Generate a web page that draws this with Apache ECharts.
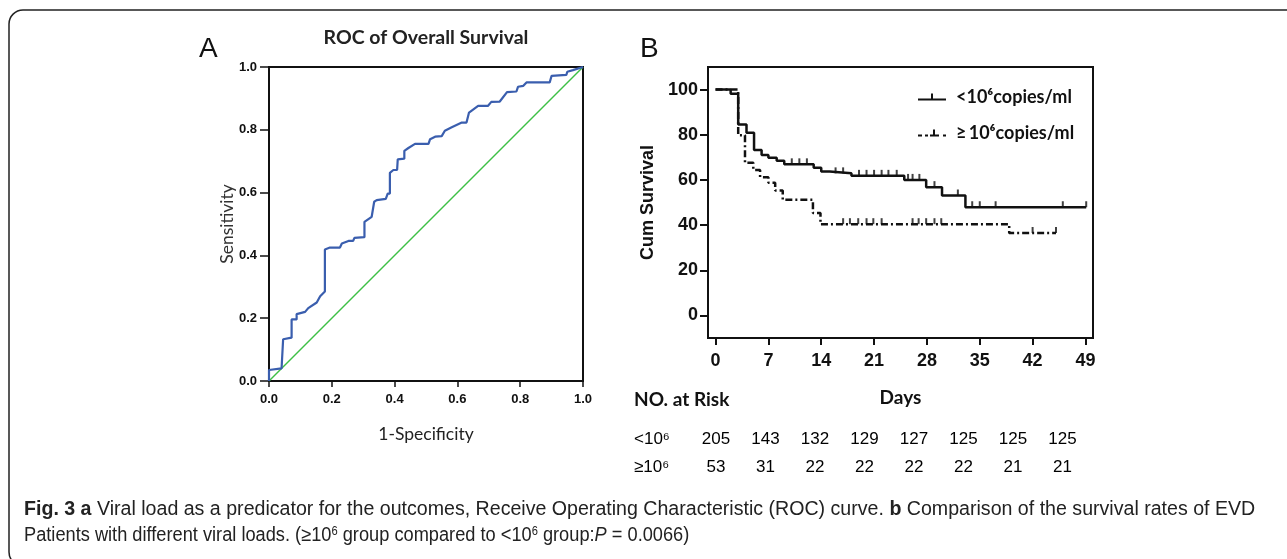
<!DOCTYPE html>
<html><head><meta charset="utf-8">
<script src="https://cdn.jsdelivr.net/npm/echarts@6/dist/echarts.min.js"></script>
<style>html,body{margin:0;padding:0;background:#fff}#c{width:1287px;height:559px}</style>
</head><body><div id="c"></div>
<script>
// ---------- Panel A: ROC ----------
const rocCurve = [[0,0],[0,0.035],[0.04,0.04],[0.045,0.04],[0.045,0.133],[0.072,0.138],[0.072,0.196],[0.088,0.196],[0.088,0.213],[0.115,0.22],[0.125,0.232],[0.152,0.25],[0.163,0.27],[0.178,0.285],[0.178,0.419],[0.194,0.425],[0.226,0.425],[0.232,0.438],[0.253,0.446],[0.268,0.446],[0.272,0.456],[0.304,0.458],[0.304,0.507],[0.327,0.523],[0.333,0.523],[0.335,0.571],[0.343,0.576],[0.372,0.58],[0.378,0.597],[0.385,0.597],[0.385,0.663],[0.396,0.672],[0.408,0.672],[0.41,0.706],[0.431,0.708],[0.431,0.733],[0.444,0.742],[0.465,0.755],[0.508,0.755],[0.513,0.77],[0.529,0.778],[0.55,0.78],[0.56,0.797],[0.582,0.808],[0.614,0.823],[0.629,0.823],[0.637,0.855],[0.666,0.876],[0.697,0.876],[0.708,0.889],[0.735,0.89],[0.758,0.92],[0.788,0.922],[0.793,0.937],[0.81,0.94],[0.82,0.951],[0.894,0.951],[0.9,0.972],[0.947,0.975],[0.95,0.985],[0.968,0.99],[1,1]];
const rocReference = [[0,0],[1,1]];

// ---------- Panel B: Kaplan-Meier ----------
const kmLow = [[0,100],[2,98.2],[3,84.5],[4.1,80.9],[5.1,73.2],[6.1,71],[7,69.8],[8.1,68.5],[9.1,66.9],[13,65.4],[14,63.7],[15.1,62.9],[18,61.8],[25,60],[27.9,56.8],[30,53.1],[33.1,47.9],[49.1,47.9]];
const kmLowCensor = [[10.1,66.9],[11.1,66.9],[12.1,66.9],[15.9,62.9],[16.9,62.9],[19,61.8],[20,61.8],[21,61.8],[22,61.8],[22.9,61.8],[24,61.8],[25.5,60],[26.1,60],[27,60],[29,56.8],[32.1,53.1],[34,47.9],[35,47.9],[37.1,47.9],[46,47.9],[49.1,47.9]];
const kmHigh = [[0,100],[3,79.8],[3.9,67.6],[5,64.4],[5.9,61.2],[7,58.8],[7.9,55.3],[8.9,51.2],[12.9,45.3],[13.9,40.4],[38.9,36.5],[45.1,36.5]];
const kmHighCensor = [[16.9,40.4],[17.8,40.4],[18.9,40.4],[20,40.4],[20.9,40.4],[22,40.4],[26.1,40.4],[26.9,40.4],[27.9,40.4],[29,40.4],[29.9,40.4],[42,36.5],[45.1,36.5]];
const kmXTicks = [0,7,14,21,28,35,42,49];
const kmYTicks = [0,20,40,60,80,100];
const groupNames = ['<10\u2076copies/ml', '\u2265\u200910\u2076copies/ml'];

// ---------- Numbers at risk ----------
const riskRowLabels = ['<10\u2076', '\u226510\u2076'];
const riskLow = [205,143,132,129,127,125,125,125];
const riskHigh = [53,31,22,22,22,22,21,21];

const ARIAL = "'Liberation Sans', Arial, sans-serif";
const CAL = "Lato, 'Liberation Sans', sans-serif";

const chart = echarts.init(document.getElementById('c'), null, {renderer:'canvas'});

const riskGraphics = [];
riskGraphics.push({type:'text', x:634, y:400, style:{text:'NO. at Risk', font:"bold 19px "+CAL, fill:'#111', verticalAlign:'middle'}});
[riskLow, riskHigh].forEach((row, r) => {
  const yy = r === 0 ? 439 : 467;
  riskGraphics.push({type:'text', x:634, y:yy, style:{text:riskRowLabels[r], font:"17px "+ARIAL, fill:'#000', verticalAlign:'middle'}});
  row.forEach((v,i) => riskGraphics.push({type:'text', x:716 + i*49.5, y:yy, style:{text:String(v), font:"17px "+ARIAL, fill:'#000', align:'center', verticalAlign:'middle'}}));
});

const capFont = "'Liberation Sans', sans-serif";
const CS = 19.6;
const capRich = {
  b:{fontFamily:capFont, fontSize:CS, fontWeight:'bold', color:'#111'},
  i:{fontFamily:capFont, fontSize:CS, fontStyle:'italic', color:'#222'},
  s:{fontFamily:capFont, fontSize:12, color:'#222', verticalAlign:'top'}
};

const option = {
  animation:false,
  backgroundColor:'#fff',
  title:[
    {text:'ROC of Overall Survival', left:421, top:23, textAlign:'center', textStyle:{fontFamily:CAL, fontWeight:'bold', fontSize:19.5, color:'#222'}},
    {text:'A', left:194, top:30, textStyle:{fontFamily:ARIAL, fontWeight:'normal', fontSize:28, color:'#111'}},
    {text:'B', left:635, top:30, textStyle:{fontFamily:ARIAL, fontWeight:'normal', fontSize:28, color:'#111'}}
  ],
  legend:{
    orient:'vertical', left:913, top:82, itemWidth:28, itemHeight:7, itemGap:16,
    data:[
      {name:groupNames[0], icon:'path://M0,5h28v2h-28z M13,0h2v5h-2z'},
      {name:groupNames[1], icon:'path://M0,5h4v2h-4z M7,5h3v2h-3z M12,5h9v2h-9z M15,0h2v5h-2z M25,5h3v2h-3z'}
    ],
    textStyle:{fontFamily:CAL, fontWeight:'bold', fontSize:18, color:'#111', lineHeight:20, padding:[0,0,0,5]}
  },
  grid:[
    {left:269, top:67, width:314, height:314, show:true, borderColor:'#111', borderWidth:2, containLabel:false},
    {left:708, top:67, width:385, height:271, show:true, borderColor:'#111', borderWidth:2, containLabel:false}
  ],
  xAxis:[
    {gridIndex:0, type:'value', min:0, max:1, interval:0.2,
     name:'1-Specificity', nameLocation:'middle', nameGap:44,
     nameTextStyle:{fontFamily:CAL, fontSize:17.5, color:'#222'},
     axisLine:{onZero:false, lineStyle:{color:'#111', width:2}}, axisTick:{length:6, lineStyle:{color:'#111', width:1.5}},
     axisLabel:{margin:12, fontFamily:ARIAL, fontWeight:'bold', fontSize:13, color:'#111', formatter:v=>v.toFixed(1)},
     splitLine:{show:false}},
    {gridIndex:1, type:'value', min:-1, max:50,
     name:'Days', nameLocation:'middle', nameGap:50,
     nameTextStyle:{fontFamily:CAL, fontWeight:'bold', fontSize:19, color:'#111'},
     axisLine:{onZero:false, lineStyle:{color:'#111', width:2}},
     axisTick:{length:7, customValues:kmXTicks, lineStyle:{color:'#111', width:2}},
     axisLabel:{margin:14, customValues:kmXTicks, fontFamily:ARIAL, fontWeight:'bold', fontSize:18, color:'#111'},
     splitLine:{show:false}}
  ],
  yAxis:[
    {gridIndex:0, type:'value', min:0, max:1, interval:0.2,
     name:'Sensitivity', nameLocation:'middle', nameGap:33, nameMoveOverlap:false,
     nameTextStyle:{fontFamily:CAL, fontSize:17.5, color:'#333'},
     axisLine:{onZero:false, lineStyle:{color:'#111', width:2}}, axisTick:{length:9, lineStyle:{color:'#111', width:1.5}},
     axisLabel:{margin:12, fontFamily:ARIAL, fontWeight:'bold', fontSize:13, color:'#111', formatter:v=>v.toFixed(1)},
     splitLine:{show:false}},
    {gridIndex:1, type:'value', min:-10, max:110,
     name:'Cum Survival', nameLocation:'middle', nameGap:51,
     nameTextStyle:{fontFamily:ARIAL, fontWeight:'bold', fontSize:18, color:'#111'},
     axisLine:{onZero:false, lineStyle:{color:'#111', width:2}},
     axisTick:{length:8, customValues:kmYTicks, lineStyle:{color:'#111', width:2}},
     axisLabel:{margin:10, customValues:kmYTicks, fontFamily:ARIAL, fontWeight:'bold', fontSize:18, color:'#111'},
     splitLine:{show:false}}
  ],
  series:[
    {type:'line', xAxisIndex:0, yAxisIndex:0, data:rocReference, symbol:'none', lineStyle:{color:'#3dbf45', width:1.4}, z:2},
    {type:'line', xAxisIndex:0, yAxisIndex:0, data:rocCurve, symbol:'none', lineStyle:{color:'#3a5eae', width:2.2}, z:3},
    {name:groupNames[1], type:'line', xAxisIndex:1, yAxisIndex:1, data:kmHigh, step:'end', symbol:'none', color:'#111',
     lineStyle:{color:'#111', width:2.5, type:[7,3,2,3]}, z:2},
    {name:groupNames[0], type:'line', xAxisIndex:1, yAxisIndex:1, data:kmLow, step:'end', symbol:'none', color:'#111',
     lineStyle:{color:'#111', width:2.5}, z:3},
    {type:'scatter', xAxisIndex:1, yAxisIndex:1, data:kmHighCensor, symbol:'rect', symbolSize:[2,6], symbolOffset:[0,-3], itemStyle:{color:'#111'}, z:4},
    {type:'scatter', xAxisIndex:1, yAxisIndex:1, data:kmLowCensor, symbol:'rect', symbolSize:[2,6], symbolOffset:[0,-3], itemStyle:{color:'#111'}, z:4}
  ],
  graphic:[
    {type:'rect', shape:{x:9, y:10, width:1300, height:556, r:14}, style:{fill:'none', stroke:'#222', lineWidth:1.5}, silent:true},
    ...riskGraphics,
    {type:'text', x:24, y:510, style:{text:'{b|Fig. 3 a} Viral load as a predicator for the outcomes, Receive Operating Characteristic (ROC) curve. {b|b} Comparison of the survival rates of EVD', rich:capRich, fontFamily:capFont, fontSize:CS, fill:'#222', verticalAlign:'middle'}},
    {type:'text', x:24, y:536, scaleX:0.93, style:{text:'Patients with different viral loads. (\u226510{s|6} group compared to <10{s|6} group:{i|P} = 0.0066)', rich:capRich, fontFamily:capFont, fontSize:CS, fill:'#222', verticalAlign:'middle'}}
  ]
};
chart.setOption(option);
</script>
</body></html>
